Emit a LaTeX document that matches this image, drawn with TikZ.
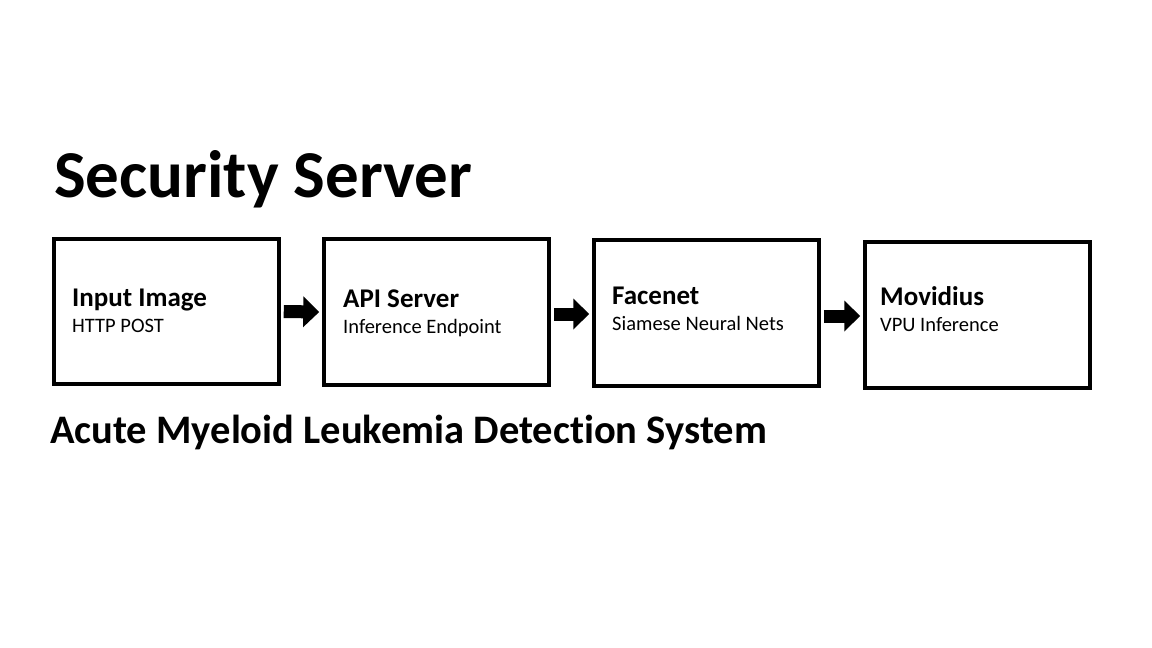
\documentclass[tikz,border=0pt]{standalone}
\usepackage{fontspec}
\setmainfont{Carlito}[Ligatures=NoCommon]
\usetikzlibrary{arrows.meta,calc}
\tikzset{
  stagebox/.style={draw=black, line width=3.5pt, fill=white, rectangle, inner sep=0pt},
  stagetitle/.style={anchor=base west, inner sep=0pt, font=\bfseries\fontsize{27}{32}\selectfont},
  stagesub/.style={anchor=base west, inner sep=0pt, font=\fontsize{20.5}{24}\selectfont},
  flowarrow/.style={line width=13pt, -{Triangle[length=16pt,width=30pt]}},
}
\begin{document}
\begin{tikzpicture}[x=1pt,y=-1pt]
\useasboundingbox[fill=white] (0,0) rectangle (1152,648);
% title
\node[anchor=base west, inner sep=0pt, font=\bfseries\fontsize{67}{80}\selectfont] (title) at (54,197) {Security Server};
% boxes
\node[stagebox, minimum width=225pt, minimum height=145pt] (b1) at (166.5,311.5) {};
\node[stagebox, minimum width=225pt, minimum height=146pt] (b2) at (436.5,312) {};
\node[stagebox, minimum width=225pt, minimum height=146pt] (b3) at (706.5,313) {};
\node[stagebox, minimum width=225pt, minimum height=146pt] (b4) at (977.5,315) {};
% texts
\node[stagetitle] (t1) at (72,306) {Input Image};
\node[stagesub] (s1) at (72,332) {HTTP POST};
\node[stagetitle] (t2) at (343,307) {API Server};
\node[stagesub] (s2) at (343,333) {Inference Endpoint};
\node[stagetitle] (t3) at (612,304) {Facenet};
\node[stagesub] (s3) at (612,330) {Siamese Neural Nets};
\node[stagetitle] (t4) at (880,305) {Movidius};
\node[stagesub] (s4) at (880,331) {VPU Inference};
% arrows
\draw[flowarrow] ($(b1.east)+(3,0)$) -- ($(b2.west)+(-3,0)$);
\draw[flowarrow] ($(b2.east)+(3,2)$) -- ($(b3.west)+(-3,1)$);
\draw[flowarrow] ($(b3.east)+(3,3)$) -- ($(b4.west)+(-3,1)$);
% subtitle
\node[anchor=base west, inner sep=0pt, font=\bfseries\fontsize{40.5}{48}\selectfont] (sub) at (50,443) {Acute Myeloid Leukemia Detection System};
\end{tikzpicture}
\end{document}
